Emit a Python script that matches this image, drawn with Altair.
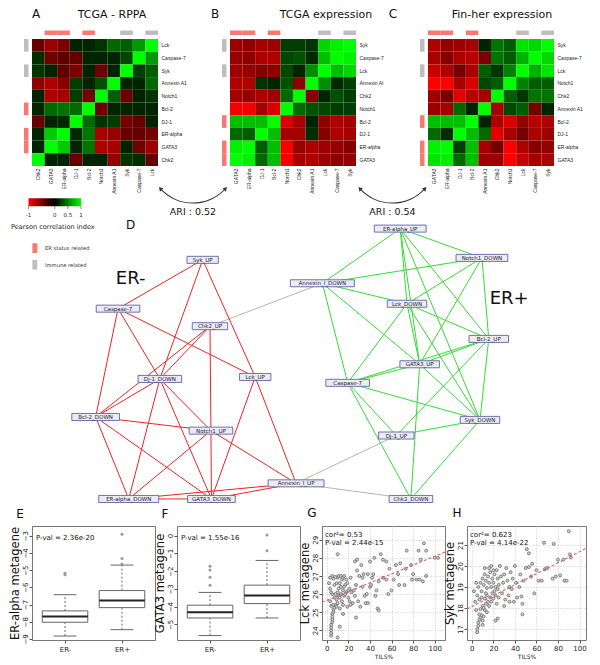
import altair as alt
import pandas as pd

FONT = "DejaVu Sans"
HEAT_RANGE = ["#ff0000", "#000000", "#00ff00"]
ER_COL = "#f47a72"
IMM_COL = "#bebebe"

# ---------------- Heatmap data ----------------
a_cols = ["Chk2", "GATA3", "ER-alpha", "DJ-1", "Bcl-2", "Notch1", "Annexin A1", "Syk", "Caspase-7", "Lck"]
a_rows = ["Lck", "Caspase-7", "Syk", "Annexin A1", "Notch1", "Bcl-2", "DJ-1", "ER-alpha", "GATA3", "Chk2"]
a_vals = [
    [-0.1, -0.45, -0.25, 0.0, 0.0, 0.15, 0.4, 0.35, 0.6, 1.0],
    [0.1, -0.15, -0.05, -0.1, 0.0, 0.0, 0.0, 0.25, 1.0, 0.6],
    [0.15, 0.0, -0.05, -0.25, 0.0, -0.15, 0.0, 1.0, 0.2, 0.35],
    [-0.35, -0.55, -0.3, 0.2, 0.0, 0.3, 1.0, 0.0, 0.0, 0.4],
    [0.0, -0.55, -0.5, 0.2, -0.2, 1.0, 0.35, -0.15, 0.0, 0.15],
    [0.0, 0.4, 0.45, 0.4, 1.0, -0.15, 0.0, 0.0, 0.0, 0.0],
    [-0.1, 0.0, 0.05, 1.0, 0.4, 0.15, 0.2, -0.2, -0.1, 0.0],
    [0.0, 0.8, 1.0, 0.05, 0.45, -0.5, -0.4, -0.1, -0.1, -0.2],
    [0.0, 1.0, 0.8, 0.0, 0.45, -0.55, -0.5, 0.0, -0.15, -0.45],
    [1.0, 0.0, 0.0, -0.1, 0.0, 0.0, -0.4, 0.15, 0.1, -0.1],
]
a_top_er = ["GATA3", "ER-alpha", "Bcl-2"]
a_top_imm = ["Syk", "Lck"]
a_left_er = ["Bcl-2", "ER-alpha", "GATA3"]
a_left_imm = ["Lck", "Syk"]

b_cols = ["GATA3", "ER-alpha", "DJ-1", "Bcl-2", "Notch1", "Chk2", "Annexin A1", "Lck", "Caspase-7", "Syk"]
b_rows = ["Syk", "Caspase-7", "Lck", "Annexin AI", "Chk2", "Notch1", "Bcl-2", "DJ-1", "ER-alpha", "GATA3"]
b_vals = [
    [-0.45, -0.35, -0.5, -0.45, 0.2, 0.2, 0.15, 0.85, 0.95, 1.0],
    [-0.4, -0.35, -0.55, -0.55, 0.25, 0.3, 0.05, 0.75, 1.0, 0.95],
    [-0.45, -0.4, -0.3, -0.35, 0.25, 0.0, 0.55, 1.0, 0.75, 0.85],
    [-0.55, -0.55, 0.15, 0.0, 0.3, -0.35, 1.0, 0.55, 0.05, 0.2],
    [-0.5, -0.4, -0.55, -0.45, 0.4, 1.0, -0.3, 0.0, 0.3, 0.2],
    [-0.95, -0.95, -0.5, -0.8, 1.0, 0.4, 0.3, 0.25, 0.2, 0.2],
    [0.75, 0.75, 0.75, 1.0, -0.8, -0.5, 0.0, -0.35, -0.55, -0.5],
    [0.4, 0.35, 1.0, 0.75, -0.5, -0.5, 0.1, -0.3, -0.55, -0.5],
    [0.95, 1.0, 0.35, 0.75, -0.95, -0.4, -0.55, -0.45, -0.4, -0.3],
    [1.0, 0.95, 0.4, 0.75, -0.95, -0.5, -0.55, -0.45, -0.35, -0.4],
]
b_top_er = ["GATA3", "ER-alpha", "Bcl-2"]
b_top_imm = ["Lck", "Syk"]
b_left_er = ["Bcl-2", "ER-alpha", "GATA3"]
b_left_imm = ["Syk", "Lck"]

c_cols = ["GATA3", "ER-alpha", "DJ-1", "Bcl-2", "Annexin A1", "Chk2", "Notch1", "Lck", "Caspase-7", "Syk"]
c_rows = ["Syk", "Caspase-7", "Lck", "Notch1", "Chk2", "Annexin A1", "Bcl-2", "DJ-1", "ER-alpha", "GATA3"]
c_vals = [
    [-0.55, -0.4, -0.45, -0.5, 0.0, 0.45, 0.35, 0.9, 0.85, 1.0],
    [-0.5, -0.3, -0.55, -0.6, -0.25, 0.45, 0.35, 0.7, 1.0, 0.85],
    [-0.7, -0.55, -0.2, -0.5, 0.35, 0.15, 0.5, 1.0, 0.7, 0.9],
    [-1.0, -1.0, -0.5, -0.8, 0.25, 0.35, 1.0, 0.5, 0.35, 0.35],
    [-0.45, -0.2, -0.85, -0.6, -0.5, 1.0, 0.35, 0.15, 0.45, 0.45],
    [-0.45, -0.5, 0.4, 0.0, 1.0, -0.5, 0.25, 0.35, -0.2, 0.0],
    [0.75, 0.75, 0.75, 1.0, 0.0, -0.55, -0.8, -0.4, -0.6, -0.55],
    [0.4, 0.1, 1.0, 0.75, 0.4, -0.85, -0.5, -0.2, -0.55, -0.45],
    [0.95, 1.0, 0.2, 0.75, -0.5, -0.2, -1.0, -0.55, -0.3, -0.4],
    [0.9, 0.95, 0.4, 0.75, -0.45, -0.45, -1.0, -0.7, -0.5, -0.55],
]
c_top_er = ["GATA3", "ER-alpha", "Bcl-2"]
c_top_imm = ["Lck", "Syk"]
c_left_er = ["Bcl-2", "ER-alpha", "GATA3"]
c_left_imm = ["Syk", "Lck"]

heat_titles = ["TCGA - RPPA", "TCGA expression", "Fin-her expression"]
heat_letters = ["A", "B", "C"]

# ---------------- Network data (layout coordinates) ----------------
node_id = ["syk_up", "casp_neg", "chk2_up", "dj1_down", "lck_up", "bcl2_down", "notch1_up", "anx_up",
           "era_down", "gata3_down", "era_up", "notch1_down", "anx_down", "lck_down", "bcl2_up",
           "gata3_up", "casp_pos", "syk_down", "dj1_up", "chk2_down"]
node_label = ["Syk_UP", "Caspase-7", "Chk2_UP", "Dj-1_DOWN", "Lck_UP", "Bcl-2_DOWN", "Notch1_UP",
              "Annexin_I_UP", "ER-alpha_DOWN", "GATA3_DOWN", "ER-alpha_UP", "Notch1_DOWN",
              "Annexin_I_DOWN", "Lck_DOWN", "Bcl-2_UP", "GATA3_UP", "Caspase-7", "Syk_DOWN",
              "Dj-1_UP", "Chk2_DOWN"]
node_x = [197, 110, 204.5, 153, 251, 87, 205.5, 293, 121, 206, 400, 484, 320, 407, 491, 420, 346, 482, 396, 411]
node_y = [258, 308, 326, 380, 378, 419, 433, 487, 503, 503, 226, 256, 282, 303, 339, 365, 384, 422, 438, 503]

edges_neg = [("syk_up", "casp_neg"), ("syk_up", "dj1_down"), ("syk_up", "lck_up"), ("casp_neg", "bcl2_down"),
             ("casp_neg", "dj1_down"), ("casp_neg", "lck_up"), ("chk2_up", "dj1_down"), ("chk2_up", "bcl2_down"),
             ("chk2_up", "notch1_up"), ("dj1_down", "bcl2_down"), ("dj1_down", "notch1_up"),
             ("dj1_down", "gata3_down"), ("dj1_down", "era_down"), ("bcl2_down", "notch1_up"),
             ("bcl2_down", "era_down"), ("bcl2_down", "gata3_down"), ("notch1_up", "era_down"),
             ("notch1_up", "gata3_down"), ("notch1_up", "anx_up"), ("lck_up", "gata3_down"),
             ("lck_up", "anx_up"), ("anx_up", "era_down"), ("anx_up", "gata3_down"), ("era_down", "gata3_down")]
edges_pos = [("era_up", "anx_down"), ("era_up", "notch1_down"), ("era_up", "lck_down"), ("era_up", "gata3_up"),
             ("era_up", "bcl2_up"), ("era_up", "syk_down"), ("notch1_down", "anx_down"),
             ("notch1_down", "lck_down"), ("notch1_down", "gata3_up"), ("notch1_down", "bcl2_up"),
             ("anx_down", "lck_down"), ("anx_down", "gata3_up"), ("anx_down", "casp_pos"),
             ("lck_down", "bcl2_up"), ("lck_down", "casp_pos"), ("lck_down", "gata3_up"),
             ("lck_down", "syk_down"), ("bcl2_up", "gata3_up"), ("bcl2_up", "casp_pos"), ("bcl2_up", "dj1_up"),
             ("bcl2_up", "syk_down"), ("gata3_up", "casp_pos"), ("gata3_up", "syk_down"),
             ("gata3_up", "chk2_down"), ("casp_pos", "syk_down"), ("casp_pos", "dj1_up"),
             ("casp_pos", "chk2_down"), ("syk_down", "dj1_up"), ("syk_down", "chk2_down")]
edges_cross = [("chk2_up", "anx_down"), ("anx_up", "dj1_up"), ("anx_up", "chk2_down")]

ari_values = ["ARI : 0.52", "ARI : 0.54"]
ari_centers_x = [187, 392]
cbar_ticks = [-1, 0, 0.5, 1]

# ---------------- Boxplot data ----------------
box_groups = [1, 2]
box_labels = ["ER-", "ER+"]
e_whislo = [-8.83, -8.46]
e_q1 = [-8.03, -7.18]
e_med = [-7.69, -6.77]
e_q3 = [-7.37, -6.19]
e_whishi = [-6.43, -4.71]
e_out_g = [1, 1, 2, 2, 2]
e_out_v = [-5.18, -5.27, -2.92, -4.33, -4.65]

f_whislo = [-5.63, -4.64]
f_q1 = [-4.64, -3.83]
f_med = [-4.32, -3.38]
f_q3 = [-3.92, -2.79]
f_whishi = [-3.2, -1.4]
f_out_g = [1, 1, 1, 1, 2, 2]
f_out_v = [-1.73, -1.94, -2.34, -2.79, 0.04, -0.86]

# ---------------- Scatter data ----------------
g_x = [4, 4, 4, 4, 4, 5, 5, 5, 5, 6, 6, 7, 4, 3, 8,
       2, 3, 5, 6, 7, 8, 9, 10, 10, 11, 11, 12, 12, 13, 14, 14, 15, 15, 16, 17, 18, 19, 20, 20, 21, 22, 23,
       24, 25, 8, 9, 11, 13, 16, 18, 6, 9, 12, 15, 7, 10, 13, 17, 19, 21, 3, 5, 4, 16, 26, 22,
       12, 10, 27, 15,
       10, 30, 32, 28, 33, 35, 38, 36, 40, 42, 40, 43, 45, 46, 47, 48, 50, 52, 48, 37, 34, 29, 31, 27, 26,
       28, 44, 38, 33, 41,
       52, 55, 55, 58, 60, 62, 66, 67, 68, 72, 73, 74, 78, 79, 83, 86, 87, 89, 90, 92, 92, 100, 57, 64, 80,
       85, 103]
g_y = [23.7, 23.85, 24.0, 24.15, 24.3, 24.45, 24.6, 24.75, 24.9, 25.0, 25.15, 25.25, 25.35, 25.6, 25.4,
       26.6, 26.3, 26.0, 26.85, 26.5, 26.0, 25.7, 25.5, 26.9, 26.3, 25.9, 26.6, 25.2, 26.0, 26.8, 25.6, 26.2,
       26.9, 25.9, 26.5, 26.1, 26.6, 25.8, 26.2, 26.3, 26.9, 26.1, 25.5, 26.2, 26.95, 26.6, 27.0, 27.0, 27.0,
       26.8, 25.4, 25.3, 25.8, 25.4, 25.8, 26.1, 26.4, 26.0, 25.3, 25.6, 26.9, 27.0, 26.1, 26.4, 25.9, 25.4,
       24.2, 23.6, 24.7, 24.9,
       28.2, 27.0, 27.6, 27.3, 26.4, 25.9, 27.1, 25.5, 26.4, 26.9, 27.8, 27.1, 25.9, 26.2, 25.2, 25.1, 28.2,
       27.9, 26.7, 26.0, 27.1, 25.6, 25.3, 26.5, 27.8, 27.9, 28.0, 25.5, 26.9, 26.5,
       26.9, 26.8, 27.8, 27.4, 26.2, 26.8, 27.1, 26.5, 27.7, 26.5, 27.4, 28.4, 27.6, 26.8, 26.8, 26.8, 27.9,
       26.7, 28.8, 28.4, 27.0, 28.0, 26.0, 27.6, 27.1, 28.4, 28.0]
g_line_x = [-4.5, 109.5]
g_line_y = [25.54, 28.32]

h_x = [5, 5, 6, 6, 7, 8, 9, 7, 10, 11, 4, 8, 10, 12, 13, 12, 15, 14, 16, 17, 18, 19, 20, 21, 22, 23, 24, 25,
       3, 2, 5, 6, 8, 9, 10, 11, 12, 13, 14, 15, 16, 17, 18, 19, 20, 21, 22, 23, 24, 25, 26, 27, 28, 29, 30,
       31, 32, 33, 34, 35, 36, 37, 38, 39, 40, 41, 9, 11, 13, 7, 4, 16, 18, 20, 12, 10, 14, 24, 30, 35, 22,
       45, 46, 47, 47, 48, 50, 51, 53, 53, 55, 56, 58, 60, 62, 65, 67, 68, 70, 76, 78, 80, 82, 85, 86, 88,
       90, 91, 92, 75, 42, 44]
h_y = [16.85, 17.0, 17.15, 17.3, 17.45, 17.55, 17.65, 17.7, 17.4, 17.6, 17.9, 17.95, 18.1, 17.9, 18.2, 18.45,
       18.3, 18.6, 18.1, 18.5, 18.3, 18.7, 18.45, 18.8, 18.6, 18.2, 18.9, 18.5,
       18.3, 18.8, 18.6, 19.0, 19.2, 18.8, 19.4, 19.1, 19.6, 19.3, 18.95, 19.5, 19.2, 19.7, 19.0, 19.4, 19.2,
       19.6, 19.0, 19.8, 19.4, 19.1, 20.0, 19.5, 18.7, 19.2, 19.6, 18.4, 19.9, 19.3, 18.6, 19.0, 19.7, 18.9,
       19.4, 18.3, 20.0, 19.2, 18.5, 18.0, 18.7, 18.4, 19.2, 19.9, 20.0, 19.8, 19.9, 17.2, 17.8, 17.5, 18.1,
       18.3, 17.4,
       19.6, 18.55, 18.2, 17.7, 19.3, 19.9, 20.8, 20.6, 19.95, 19.5, 20.1, 18.7, 19.8, 19.3, 19.3, 21.1,
       19.85, 19.9, 21.05, 19.5, 20.3, 19.55, 20.3, 19.3, 19.3, 21.65, 20.55, 20.4, 19.4, 18.5, 19.0]
h_line_x = [-4.5, 106]
h_line_y = [17.95, 20.83]

# ---------------- Layout (page px) ----------------
HW, HH = 126, 127          # heatmap cell area
ROW_GAP = 133              # outer spacing (nested rows count as zero height with flush bounds)
MID_W, MID_H = 556, 221    # network panel box (marks may extend below it)
BOT_H = 114
BOT_W = [123, 123, 123, 119]
REF_SCALE = 0.976          # reference px -> page px (vertical)
NET_Y0 = 168.0


def heat_panel(cols, rows, vals, top_er, top_imm, left_er, left_imm, title, title_dx, letter, letter_dx):
    cells = pd.DataFrame({
        "row": [r for r in rows for _ in cols],
        "col": [c for _ in rows for c in cols],
        "v": [v for rv in vals for v in rv],
    })
    xsc = alt.Scale(domain=cols, paddingInner=0, paddingOuter=0)
    ysc = alt.Scale(domain=rows, paddingInner=0, paddingOuter=0)
    xax = alt.Axis(title=None, orient="bottom", labelAngle=270, labelAlign="right", labelBaseline="middle",
                   labelFontSize=5, labelPadding=2, domain=False, ticks=False, labelColor="#222",
                   labelOverlap=False, labelFont="Liberation Sans")
    yax = alt.Axis(title=None, orient="right", labelAlign="left", labelBaseline="middle", labelFontSize=5,
                   labelPadding=3, domain=False, ticks=False, labelColor="#222", labelOverlap=False,
                   labelFont="Liberation Sans")
    heat = alt.Chart(cells).mark_rect().encode(
        x=alt.X("col:N", scale=xsc, axis=xax),
        y=alt.Y("row:N", scale=ysc, axis=yax),
        color=alt.Color("v:Q", scale=alt.Scale(domain=[-1, 0, 1], range=HEAT_RANGE), legend=None),
    )
    topdf = pd.DataFrame({"col": top_er + top_imm, "kind": ["er"] * len(top_er) + ["imm"] * len(top_imm)})
    topbars = alt.Chart(topdf).mark_rect().encode(
        x=alt.X("col:N", scale=xsc, axis=xax),
        y=alt.value(-8.5), y2=alt.value(-4),
        color=alt.condition("datum.kind == 'er'", alt.value(ER_COL), alt.value(IMM_COL)),
    )
    leftdf = pd.DataFrame({"row": left_er + left_imm, "kind": ["er"] * len(left_er) + ["imm"] * len(left_imm)})
    leftbars = alt.Chart(leftdf).mark_rect().encode(
        y=alt.Y("row:N", scale=ysc, axis=yax),
        x=alt.value(-8), x2=alt.value(-3.5),
        color=alt.condition("datum.kind == 'er'", alt.value(ER_COL), alt.value(IMM_COL)),
    )
    ttl = alt.Chart(pd.DataFrame({"t": [title]})).mark_text(
        fontSize=11, font=FONT, align="center", baseline="middle", color="#111"
    ).encode(x=alt.value(title_dx), y=alt.value(-24), text="t:N")
    let = alt.Chart(pd.DataFrame({"t": [letter]})).mark_text(
        fontSize=12, font=FONT, align="center", baseline="middle", color="#111"
    ).encode(x=alt.value(letter_dx), y=alt.value(-25), text="t:N")
    return alt.layer(heat, topbars, leftbars, ttl, let).properties(width=HW, height=HH)


A = heat_panel(a_cols, a_rows, a_vals, a_top_er, a_top_imm, a_left_er, a_left_imm,
               heat_titles[0], 80, heat_letters[0], 4)
B = heat_panel(b_cols, b_rows, b_vals, b_top_er, b_top_imm, b_left_er, b_left_imm,
               heat_titles[1], 96, heat_letters[1], -15)
C = heat_panel(c_cols, c_rows, c_vals, c_top_er, c_top_imm, c_left_er, c_left_imm,
               heat_titles[2], 74, heat_letters[2], -35)

# ---------------- Network panel ----------------
NX = alt.Scale(domain=[21.6, 593.0], nice=False, zero=False)
NY = alt.Scale(domain=[NET_Y0, NET_Y0 + MID_H / REF_SCALE], nice=False, zero=False, reverse=True)


def NXe(f):
    return alt.X(f, type="quantitative", scale=NX, axis=None)


def NYe(f):
    return alt.Y(f, type="quantitative", scale=NY, axis=None)


pos = {i: (x, y) for i, x, y in zip(node_id, node_x, node_y)}


def edge_df(edges):
    return pd.DataFrame({
        "x": [pos[a][0] for a, b in edges], "y": [pos[a][1] for a, b in edges],
        "x2": [pos[b][0] for a, b in edges], "y2": [pos[b][1] for a, b in edges],
    })


def edge_layer(edges, color):
    return alt.Chart(edge_df(edges)).mark_rule(color=color, strokeWidth=1).encode(
        x=NXe("x"), y=NYe("y"), x2="x2:Q", y2="y2:Q")


nodes = pd.DataFrame({"label": node_label, "x": node_x, "y": node_y})
nodes["w"] = nodes["label"].str.len() * 4.2 + 7
nodes["x0"] = nodes["x"] - nodes["w"] / 2
nodes["x1"] = nodes["x"] + nodes["w"] / 2
nodes["y0"] = nodes["y"] - 3.6
nodes["y1"] = nodes["y"] + 3.6

node_boxes = alt.Chart(nodes).mark_rect(fill="#ebebf2", stroke="#6f6fb5", strokeWidth=1).encode(
    x=NXe("x0"), x2="x1:Q", y=NYe("y0"), y2="y1:Q")
node_text = alt.Chart(nodes).mark_text(fontSize=5.5, font=FONT, color="#222", baseline="middle").encode(
    x=NXe("x"), y=NYe("y"), text="label:N")

# annotation texts (layout positions)
net_texts = pd.DataFrame({
    "t": ["ER-", "ER+", "D"],
    "x": [123, 512, 123], "y": [278, 298, 222], "s": [18, 18, 12],
})
big_text = alt.Chart(net_texts).mark_text(font=FONT, color="#111", baseline="middle").encode(
    x=NXe("x"), y=NYe("y"), text="t:N", size=alt.Size("s:Q", scale=None))

# ARI arrows
arc_df = pd.DataFrame({"x": ari_centers_x, "y": [155, 155]})
arcs = alt.Chart(arc_df).mark_arc(theta=2.30, theta2=3.98, radius=44.3, radius2=43.3, color="#333").encode(
    x=NXe("x"), y=NYe("y"))
heads = pd.DataFrame({
    "x": [cx + d for cx in ari_centers_x for d in (-33.5, 33.5)],
    "y": [185, 185, 185, 185],
    "a": [318, 42, 318, 42],
})
arrow_heads = alt.Chart(heads).mark_point(shape="triangle-up", filled=True, size=22, color="#333", opacity=1).encode(
    x=NXe("x"), y=NYe("y"), angle=alt.Angle("a:Q", scale=None))
ari_df = pd.DataFrame({"t": ari_values, "x": ari_centers_x, "y": [209, 209]})
ari_text = alt.Chart(ari_df).mark_text(fontSize=9.5, font=FONT, color="#111", baseline="middle").encode(
    x=NXe("x"), y=NYe("y"), text="t:N")

# colour bar legend
CB_X0, CB_X1, CB_Y0, CB_Y1 = 18, 72, 195, 203
cbar = alt.Chart(pd.DataFrame({"x": [CB_X0], "x2": [CB_X1], "y": [CB_Y0], "y2": [CB_Y1]})).mark_rect(
    fill=alt.Gradient(gradient="linear", x1=0, x2=1, y1=0, y2=0,
                      stops=[alt.GradientStop(color=HEAT_RANGE[0], offset=0),
                             alt.GradientStop(color=HEAT_RANGE[1], offset=0.5),
                             alt.GradientStop(color=HEAT_RANGE[2], offset=1)])
).encode(x=NXe("x"), x2="x2:Q", y=NYe("y"), y2="y2:Q")
cb = pd.DataFrame({"v": cbar_ticks})
cb["x"] = CB_X0 + (cb["v"] + 1) / 2 * (CB_X1 - CB_X0)
cb["y"] = CB_Y1
cb["y2"] = CB_Y1 + 3
cb["ty"] = CB_Y1 + 9
cb["lab"] = ["-1", "0", "0.5", "1"]
cb_ticks = alt.Chart(cb).mark_rule(color="#333", strokeWidth=0.6).encode(x=NXe("x"), y=NYe("y"), y2="y2:Q")
cb_labels = alt.Chart(cb).mark_text(fontSize=5.5, font=FONT, color="#222", baseline="middle").encode(
    x=NXe("x"), y=NYe("ty"), text="lab:N")
cb_title = alt.Chart(pd.DataFrame({"t": ["Pearson correlation index"], "x": [43], "y": [224]})).mark_text(
    fontSize=6.6, font=FONT, color="#222", baseline="middle").encode(x=NXe("x"), y=NYe("y"), text="t:N")

leg = pd.DataFrame({"t": ["ER status related", "Immune related"], "kind": ["er", "imm"],
                    "x0": [22, 22], "x1": [27, 27], "y0": [241, 258], "y1": [251, 268],
                    "tx": [35, 35], "ty": [246, 263]})
leg_sq = alt.Chart(leg).mark_rect().encode(
    x=NXe("x0"), x2="x1:Q", y=NYe("y0"), y2="y1:Q",
    color=alt.condition("datum.kind == 'er'", alt.value(ER_COL), alt.value(IMM_COL)))
leg_tx = alt.Chart(leg).mark_text(fontSize=5.2, font=FONT, color="#333", align="left", baseline="middle").encode(
    x=NXe("tx"), y=NYe("ty"), text="t:N")

NET = alt.layer(
    edge_layer(edges_cross, "#b4b4b4"), edge_layer(edges_neg, "#ee2222"), edge_layer(edges_pos, "#33dd33"),
    node_boxes, node_text, big_text, arcs, arrow_heads, ari_text, cbar, cb_ticks, cb_labels, cb_title,
    leg_sq, leg_tx,
).properties(width=MID_W, height=MID_H)


# ---------------- Boxplots ----------------
def box_panel(wlo, q1, med, q3, whi, out_g, out_v, ydom, yticks, ytitle, ptext, letter, width):
    bx = pd.DataFrame({"g": box_groups, "wlo": wlo, "q1": q1, "med": med, "q3": q3, "whi": whi})
    bx["lo"] = bx["g"] - 0.4
    bx["hi"] = bx["g"] + 0.4
    bx["cl"] = bx["g"] - 0.2
    bx["ch"] = bx["g"] + 0.2
    xsc = alt.Scale(domain=[0.42, 2.58], nice=False, zero=False)
    ysc = alt.Scale(domain=ydom, nice=False, zero=False)
    xax = alt.Axis(values=box_groups, labelExpr="datum.value == 1 ? 'ER-' : 'ER+'", title=None, grid=False,
                   domain=False, tickSize=3, tickColor="#555", labelFontSize=7, labelPadding=2,
                   labelColor="#222")
    yax = alt.Axis(values=yticks, format="d", title=ytitle, grid=False, domain=False, tickSize=3,
                   tickColor="#555", labelAngle=270, labelAlign="center", labelBaseline="bottom",
                   labelFontSize=7, labelPadding=1, labelColor="#222", titleFontSize=11.5,
                   titleFontWeight="normal", titlePadding=1, titleColor="#111", titleFont=FONT)

    def X(f):
        return alt.X(f, type="quantitative", scale=xsc, axis=xax)

    def Y(f):
        return alt.Y(f, type="quantitative", scale=ysc, axis=yax)

    base = alt.Chart(bx)
    wu = base.mark_rule(strokeDash=[2, 2], color="#666").encode(x=X("g"), y=Y("q3"), y2="whi:Q")
    wd = base.mark_rule(strokeDash=[2, 2], color="#666").encode(x=X("g"), y=Y("wlo"), y2="q1:Q")
    cu = base.mark_rule(color="#666").encode(x=X("cl"), x2="ch:Q", y=Y("whi"))
    cd = base.mark_rule(color="#666").encode(x=X("cl"), x2="ch:Q", y=Y("wlo"))
    box = base.mark_rect(fill="white", stroke="#666", strokeWidth=1).encode(
        x=X("lo"), x2="hi:Q", y=Y("q1"), y2="q3:Q")
    md = base.mark_rule(color="#222", strokeWidth=2).encode(x=X("lo"), x2="hi:Q", y=Y("med"))
    out = alt.Chart(pd.DataFrame({"g": out_g, "v": out_v})).mark_circle(size=9, color="#999", opacity=1).encode(
        x=X("g"), y=Y("v"))
    txt = alt.Chart(pd.DataFrame({"t": [ptext]})).mark_text(
        fontSize=7, font=FONT, align="left", baseline="middle", color="#111").encode(
        x=alt.value(4), y=alt.value(12), text="t:N")
    let = alt.Chart(pd.DataFrame({"t": [letter]})).mark_text(
        fontSize=12, font=FONT, align="center", baseline="middle", color="#111").encode(
        x=alt.value(-12), y=alt.value(-12), text="t:N")
    return alt.layer(wu, wd, cu, cd, box, md, out, txt, let).properties(
        width=width, height=BOT_H, view=alt.ViewBackground(stroke="#777", strokeWidth=1))


E = box_panel(e_whislo, e_q1, e_med, e_q3, e_whishi, e_out_g, e_out_v, [-9.06, -2.44],
              [-9, -8, -7, -6, -5, -4, -3], "ER-alpha metagene", "P-val = 2.36e-20", "E", BOT_W[0])
F = box_panel(f_whislo, f_q1, f_med, f_q3, f_whishi, f_out_g, f_out_v, [-5.88, 0.54],
              [-5, -4, -3, -2, -1, 0], "GATA3 metagene", "P-val = 1.55e-16", "F", BOT_W[1])


# ---------------- Scatter plots ----------------
def scatter_panel(px, py, lx, ly, xdom, ydom, yticks, ytitle, t1, t2, letter, width):
    xsc = alt.Scale(domain=xdom, nice=False, zero=False)
    ysc = alt.Scale(domain=ydom, nice=False, zero=False)
    xax = alt.Axis(values=[0, 20, 40, 60, 80, 100], title="TILS%", titleFontSize=6, titleFontWeight="normal",
                   titlePadding=2, titleColor="#222", grid=True, gridDash=[1, 2], gridColor="#c8c8c8",
                   domain=False, tickSize=3, tickColor="#555", labelFontSize=7, labelPadding=1,
                   labelColor="#222")
    yax = alt.Axis(values=yticks, format="d", title=ytitle, grid=True, gridDash=[1, 2], gridColor="#c8c8c8",
                   domain=False, tickSize=3, tickColor="#555", labelAngle=270, labelAlign="center",
                   labelBaseline="bottom", labelFontSize=7, labelPadding=1, labelColor="#222",
                   titleFontSize=11.5, titleFontWeight="normal", titlePadding=1, titleColor="#111",
                   titleFont=FONT)

    def X(f):
        return alt.X(f, type="quantitative", scale=xsc, axis=xax)

    def Y(f):
        return alt.Y(f, type="quantitative", scale=ysc, axis=yax)

    pts = alt.Chart(pd.DataFrame({"x": px, "y": py})).mark_point(
        shape="circle", size=9, stroke="#6a6a6a", strokeWidth=0.8, fill="#d0d0d0", filled=False,
        fillOpacity=1, opacity=1).encode(x=X("x"), y=Y("y"))
    line = alt.Chart(pd.DataFrame({"x": lx, "y": ly})).mark_line(
        color="#e06060", strokeDash=[3, 2], strokeWidth=1.1).encode(x=X("x"), y=Y("y"))
    txt = alt.Chart(pd.DataFrame({"t": [t1, t2], "yy": [9, 17]})).mark_text(
        fontSize=7, font=FONT, align="left", baseline="middle", color="#111").encode(
        x=alt.value(3), y=alt.Y("yy:Q", scale=None), text="t:N")
    let = alt.Chart(pd.DataFrame({"t": [letter]})).mark_text(
        fontSize=12, font=FONT, align="center", baseline="middle", color="#111").encode(
        x=alt.value(-10), y=alt.value(-13), text="t:N")
    return alt.layer(pts, line, txt, let).properties(
        width=width, height=BOT_H, view=alt.ViewBackground(stroke="#777", strokeWidth=1))


G = scatter_panel(g_x, g_y, g_line_x, g_line_y, [-4.5, 109.5], [23.46, 29.76], [24, 25, 26, 27, 28, 29],
                  "Lck metagene", "cor²= 0.53", "P-val = 2.44e-15", "G", BOT_W[2])
H = scatter_panel(h_x, h_y, h_line_x, h_line_y, [-4.5, 106], [16.48, 21.9], [17, 18, 19, 20, 21],
                  "Syk metagene", "cor²= 0.623", "P-val = 4.14e-22", "H", BOT_W[3])

top_row = alt.hconcat(A, B, C, spacing=72, bounds="flush")
bottom_row = alt.hconcat(E, F, G, H, spacing=22, bounds="flush")

chart = alt.vconcat(top_row, NET, bottom_row, spacing=ROW_GAP, bounds="flush").properties(
    padding=0, background="white"
).configure(font=FONT).configure_view(stroke=None)

chart.save("out.html", embed_options={"renderer": "svg", "actions": False})
